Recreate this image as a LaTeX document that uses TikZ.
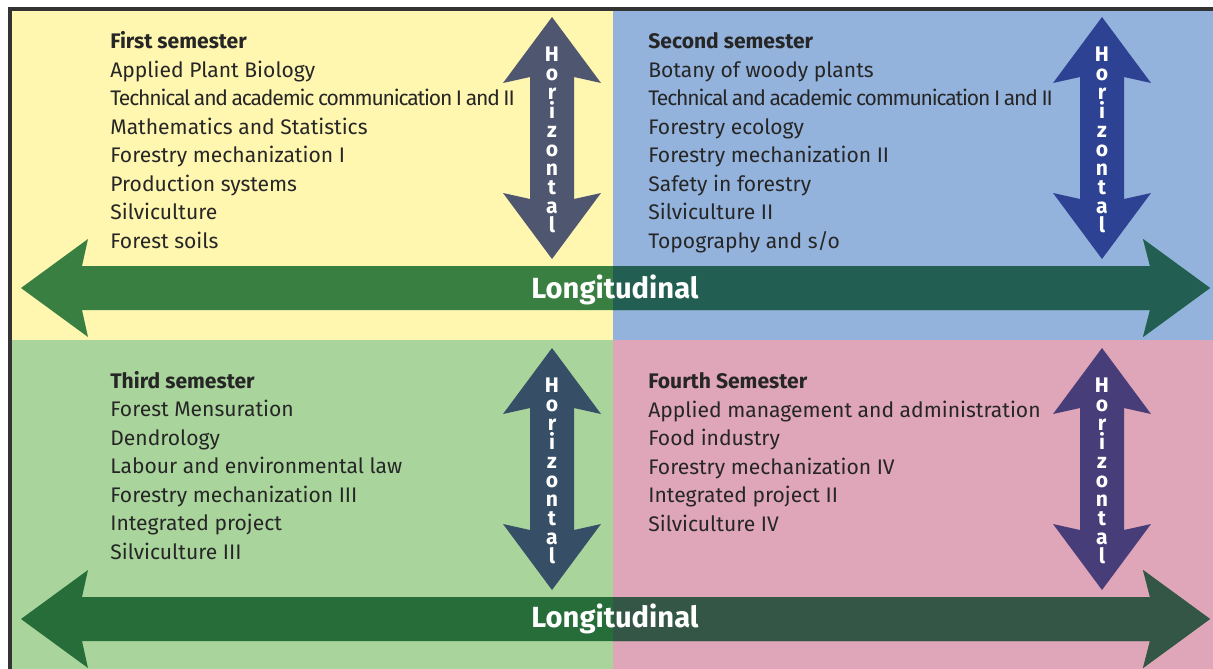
\documentclass[tikz,border=0pt]{standalone}
\usepackage{fontspec}
\setmainfont{Fira Sans}
\usepackage{tikz}

\definecolor{yellowbg}{HTML}{FFF6B0}
\definecolor{bluebg}{HTML}{93B3DD}
\definecolor{greenbg}{HTML}{A9D59C}
\definecolor{pinkbg}{HTML}{DFA5B9}
\definecolor{textgray}{HTML}{262626}
\definecolor{longA}{HTML}{3A7F42}
\definecolor{longB}{HTML}{225E52}
\definecolor{longC}{HTML}{276D3A}
\definecolor{longD}{HTML}{345646}
\definecolor{vertA}{HTML}{4F5770}
\definecolor{vertB}{HTML}{2E4293}
\definecolor{vertC}{HTML}{364F67}
\definecolor{vertD}{HTML}{473D79}

\tikzset{
  semtext/.style={anchor=base west, align=left, inner sep=0pt, text=textgray,
    font=\fontsize{12}{16.2}\selectfont},
  vtext/.style={align=center, inner sep=0pt, text=white,
    font=\fontsize{12}{10.84}\selectfont\bfseries},
  ltext/.style={inner sep=0pt, text=white, font=\fontsize{16.6}{20}\selectfont\bfseries},
  pics/longarrow/.style 2 args={code={
      \fill[#1] (-592,0) -- (-525,-49) -- (-531,-22) -- (537,-22) -- (530,-49)
        -- (597,0) -- (530,49) -- (537,22) -- (-531,22) -- (-525,49) -- cycle;
      \begin{scope}
        \clip (0,-60) rectangle (620,60);
        \fill[#2] (-592,0) -- (-525,-49) -- (-531,-22) -- (537,-22) -- (530,-49)
          -- (597,0) -- (530,49) -- (537,22) -- (-531,22) -- (-525,49) -- cycle;
      \end{scope}
  }},
  pics/vertarrow/.style={code={
      \fill[#1] (0,-121) -- (49,-55) -- (22,-61) -- (22,61) -- (49,55) -- (0,121)
        -- (-49,55) -- (-22,61) -- (-22,-61) -- (-49,-55) -- cycle;
  }}
}

\newcommand{\tightline}[1]{{\addfontfeatures{LetterSpace=-5.5}\spaceskip=0.17em#1}}

\begin{document}
\begin{tikzpicture}[x=0.02cm,y=-0.02cm]
  \useasboundingbox (0,0) rectangle (1213,669);

  % quadrants
  \fill[yellowbg] (10,9) rectangle (613,340);
  \fill[bluebg] (613,9) rectangle (1213,340);
  \fill[greenbg] (10,340) rectangle (613,669);
  \fill[pinkbg] (613,340) rectangle (1213,669);
  \draw[line width=2pt,black!80] (1213,9) -- (10,9) -- (10,669);

  % arrows
  \pic at (613,288) {longarrow={longA}{longB}};
  \pic at (613,619) {longarrow={longC}{longD}};
  \foreach \px/\py/\col in {552/138/vertA, 1102/138/vertB, 552/469/vertC, 1102/469/vertD}
    \pic at (\px,\py) {vertarrow=\col};

  \node[ltext] (longtop) at (615,290) {Longitudinal};
  \node[ltext] (longbot) at (615,619) {Longitudinal};

  \node[vtext] (horizA) at (552,140) {H\\o\\r\\i\\z\\o\\n\\t\\a\\l};
  \node[vtext] (horizB) at (1102,140) {H\\o\\r\\i\\z\\o\\n\\t\\a\\l};
  \node[vtext] (horizC) at (552,471) {H\\o\\r\\i\\z\\o\\n\\t\\a\\l};
  \node[vtext] (horizD) at (1102,471) {H\\o\\r\\i\\z\\o\\n\\t\\a\\l};

  % semesters (placed by the baseline of the last line)
  \node[semtext] (semI) at (110,248) {\textbf{First semester}\\
    Applied Plant Biology\\
    \tightline{Technical and academic communication I and II}\\
    Mathematics and Statistics\\
    Forestry mechanization I\\
    Production systems\\
    Silviculture\\
    Forest soils};
  \node[semtext] (semII) at (648,248) {\textbf{Second semester}\\
    Botany of woody plants\\
    \tightline{Technical and academic communication I and II}\\
    Forestry ecology\\
    Forestry mechanization II\\
    Safety in forestry\\
    Silviculture II\\
    Topography and s/o};
  \node[semtext] (semIII) at (110,559) {\textbf{Third semester}\\
    Forest Mensuration\\
    Dendrology\\
    Labour and environmental law\\
    Forestry mechanization III\\
    Integrated project\\
    Silviculture III};
  \node[semtext] (semIV) at (648,531) {\textbf{Fourth Semester}\\
    Applied management and administration\\
    Food industry\\
    Forestry mechanization IV\\
    Integrated project II\\
    Silviculture IV};
\end{tikzpicture}
\end{document}
